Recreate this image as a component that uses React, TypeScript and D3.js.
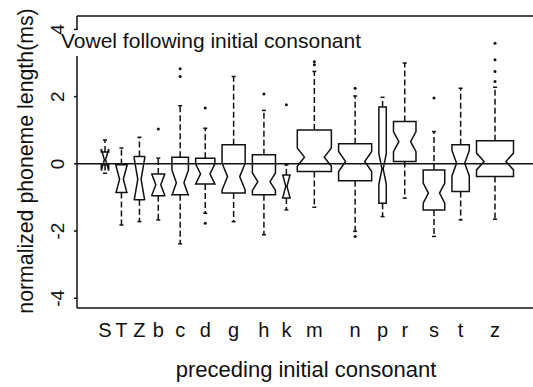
import React from "react";
import * as d3 from "d3";

const categories = ["S", "T", "Z", "b", "c", "d", "g", "h", "k", "m", "n", "p", "r", "s", "t", "z"];
const counts = [4, 9, 8, 12, 20, 27, 39, 39, 4, 85, 80, 4, 37, 34, 22, 100];
const whiskLo = [-0.28, -1.82, -1.72, -1.67, -2.38, -1.47, -1.72, -2.11, -1.37, -1.29, -2.01, -1.57, -1.02, -2.16, -1.67, -1.65];
const q1 = [-0.02, -0.85, -1.07, -0.95, -0.92, -0.6, -0.87, -0.92, -1.02, -0.23, -0.5, -1.17, 0.07, -1.37, -0.82, -0.38];
const medians = [0.12, -0.46, -0.46, -0.62, -0.56, -0.3, -0.38, -0.53, -0.67, 0.2, 0.07, -0.15, 0.66, -0.87, 0.02, 0.07];
const q3 = [0.35, -0.03, 0.22, -0.3, 0.2, 0.17, 0.57, 0.27, -0.33, 1.01, 0.6, 1.69, 1.26, -0.18, 0.57, 0.69];
const whiskHi = [0.71, 0.47, 0.79, 0.17, 1.73, 1.06, 2.6, 1.59, -0.03, 2.75, 2.02, 1.98, 3.0, 0.96, 2.25, 2.28];
const notchHalf = [0.32, 0.41, 0.62, 0.31, 0.38, 0.3, 0.4, 0.26, 0.35, 0.27, 0.3, 0.45, 0.3, 0.3, 0.38, 0.25];
const outlierCats = ["b", "c", "c", "d", "d", "h", "k", "m", "m", "n", "n", "s", "z", "z", "z", "z"];
const outlierVals = [1.04, 2.83, 2.6, 1.66, -1.77, 2.08, 1.76, 3.04, 2.95, 2.25, -2.16, 1.96, 3.59, 3.1, 2.75, 2.45];
const yTicks = [-4, -2, 0, 2, 4];

const title = "Vowel following initial consonant";
const yTitle = "normalized phoneme length(ms)";
const xTitle = "preceding initial consonant";

const FONT = "'Liberation Sans', Arial, Helvetica, sans-serif";

export default function App() {
  const W = 533;
  const H = 387;
  const axisX = 77;
  const top = 16;
  const bottom = 308;
  const rightEdge = 540;

  const y = d3.scaleLinear().domain([-4.29, 4.4]).range([bottom, top]);

  // variable width boxes: width proportional to sqrt(n), laid out cumulatively
  const gapUnits = 1.95;
  const units = counts.map((n) => Math.sqrt(n));
  const starts: number[] = [];
  let acc = 0;
  units.forEach((u, i) => {
    starts.push(acc);
    acc += u + (i < units.length - 1 ? gapUnits : 0);
  });
  const x = d3.scaleLinear().domain([0, acc]).range([101.3, 513.5]);
  const pxPerUnit = x(1) - x(0);

  const boxes = categories.map((c, i) => {
    const w = units[i] * pxPerUnit;
    const cx = x(starts[i] + units[i] / 2);
    return { c, i, w, cx };
  });
  const centerOf: Record<string, number> = {};
  boxes.forEach((b) => (centerOf[b.c] = b.cx));

  const stroke = "#111";
  const sw = 1.5;

  return (
    <svg
      width={W}
      height={H}
      style={{ position: "absolute", left: 0, top: 0, background: "#fff" }}
      fontFamily={FONT}
    >
      {/* frame */}
      <line x1={axisX} x2={axisX} y1={top} y2={bottom} stroke={stroke} strokeWidth={sw} />
      <line x1={axisX} x2={rightEdge} y1={top} y2={top} stroke={stroke} strokeWidth={sw} />
      <line x1={axisX} x2={rightEdge} y1={bottom} y2={bottom} stroke={stroke} strokeWidth={sw} />
      {/* zero line */}
      <line x1={axisX} x2={rightEdge} y1={y(0)} y2={y(0)} stroke={stroke} strokeWidth={sw} />

      {/* title with white background */}
      <rect x={60} y={30} width={308} height={26} fill="#fff" />
      <text x={61} y={48} fontSize={21} fill="#111">
        {title}
      </text>

      {/* y ticks */}
      {yTicks.map((t) => (
        <g key={t}>
          <line x1={axisX - 3} x2={axisX} y1={y(t)} y2={y(t)} stroke={stroke} strokeWidth={sw} />
          <text
            transform={`translate(${64},${y(t)}) rotate(-90)`}
            textAnchor="middle"
            fontSize={19}
            fill="#111"
          >
            {t}
          </text>
        </g>
      ))}

      {/* y title */}
      <text transform={`translate(33,${161}) rotate(-90)`} textAnchor="middle" fontSize={21.3} fill="#111">
        {yTitle}
      </text>

      {/* boxes */}
      {boxes.map(({ c, i, w, cx }) => {
        const L = cx - w / 2;
        const R = cx + w / 2;
        const ind = 2 + 0.15 * w;
        const ym = y(medians[i]);
        const yn1 = y(medians[i] + notchHalf[i]);
        const yn0 = y(medians[i] - notchHalf[i]);
        const pts: [number, number][] = [
          [L, y(q3[i])],
          [R, y(q3[i])],
          [R, yn1],
          [R - ind, ym],
          [R, yn0],
          [R, y(q1[i])],
          [L, y(q1[i])],
          [L, yn0],
          [L + ind, ym],
          [L, yn1],
        ];
        const path = d3.line()(pts) + "Z";
        const cap = 2;
        return (
          <g key={c}>
            <line x1={cx} x2={cx} y1={y(q3[i])} y2={y(whiskHi[i])} stroke={stroke} strokeWidth={sw} strokeDasharray="6,3" />
            <line x1={cx} x2={cx} y1={y(q1[i])} y2={y(whiskLo[i])} stroke={stroke} strokeWidth={sw} strokeDasharray="6,3" />
            <line x1={cx - cap} x2={cx + cap} y1={y(whiskHi[i])} y2={y(whiskHi[i])} stroke={stroke} strokeWidth={sw} />
            <line x1={cx - cap} x2={cx + cap} y1={y(whiskLo[i])} y2={y(whiskLo[i])} stroke={stroke} strokeWidth={sw} />
            <path d={path} fill="none" stroke={stroke} strokeWidth={sw} strokeLinejoin="miter" />
          </g>
        );
      })}

      {/* outliers */}
      {outlierVals.map((v, k) => (
        <circle key={k} cx={centerOf[outlierCats[k]]} cy={y(v)} r={1.5} fill="#111" />
      ))}

      {/* x category labels */}
      {boxes.map(({ c, cx }) => (
        <text key={c} x={cx} y={337} textAnchor="middle" fontSize={20} fill="#111">
          {c}
        </text>
      ))}

      {/* x title */}
      <text x={306} y={377} textAnchor="middle" fontSize={22} fill="#111">
        {xTitle}
      </text>
    </svg>
  );
}
